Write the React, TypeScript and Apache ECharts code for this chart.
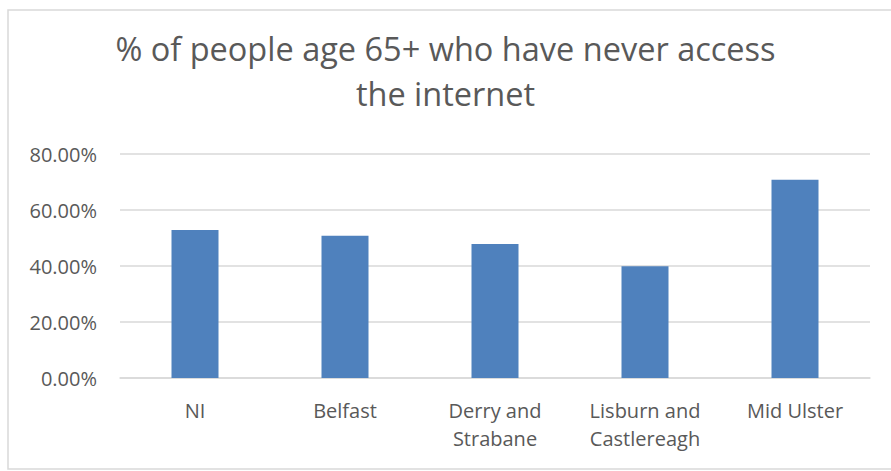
import React, { useEffect, useRef } from "react";
import * as echarts from "echarts";

const categories = ["NI", "Belfast", "Derry and\nStrabane", "Lisburn and\nCastlereagh", "Mid Ulster"];
const values = [0.529, 0.508, 0.479, 0.399, 0.708];
const titleText = "% of people age 65+ who have never access\nthe internet";

export default function App() {
  const ref = useRef<HTMLDivElement>(null);
  useEffect(() => {
    const chart = echarts.init(ref.current!, undefined, { renderer: "svg" });
    chart.setOption({
      animation: false,
      backgroundColor: "#ffffff",
      title: {
        text: titleText,
        left: "center",
        top: 21,
        textStyle: {
          fontFamily: "Open Sans",
          fontSize: 32.5,
          fontWeight: "normal",
          color: "#595959",
          lineHeight: 45,
        },
      },
      graphic: [
        {
          type: "rect",
          shape: { x: 8, y: 10, width: 900, height: 459 },
          style: { fill: "none", stroke: "#D9D9D9", lineWidth: 1.5 },
          silent: true,
        },
      ],
      grid: { left: 120, right: 21, top: 154, bottom: 93 },
      xAxis: {
        type: "category",
        data: categories,
        axisLine: { show: true, lineStyle: { color: "#D9D9D9", width: 1.5 } },
        axisTick: { show: false },
        axisLabel: {
          fontFamily: "Open Sans",
          fontSize: 20,
          color: "#595959",
          lineHeight: 28,
          margin: 18,
          interval: 0,
        },
      },
      yAxis: {
        type: "value",
        min: 0,
        max: 0.8,
        interval: 0.2,
        axisLine: { show: false },
        axisTick: { show: false },
        splitLine: { lineStyle: { color: "#D9D9D9", width: 1.5 } },
        axisLabel: {
          fontFamily: "Open Sans",
          fontSize: 20,
          color: "#595959",
          margin: 23,
          formatter: (v: number) => (v * 100).toFixed(2) + "%",
        },
      },
      series: [
        {
          type: "bar",
          data: values,
          barWidth: 47,
          itemStyle: { color: "#4F81BD" },
        },
      ],
    });
    return () => chart.dispose();
  }, []);
  return <div ref={ref} style={{ position: "fixed", left: 0, top: 0, width: 891, height: 471 }} />;
}
